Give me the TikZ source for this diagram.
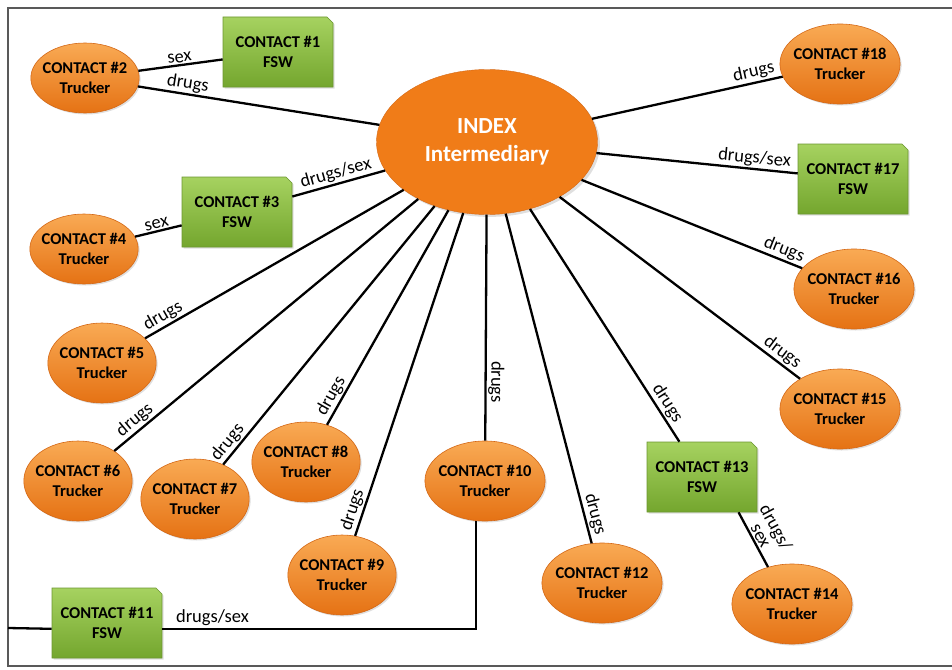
\documentclass[tikz,border=0pt]{standalone}
\usepackage{fontspec}
\setmainfont{Carlito}
\usetikzlibrary{shapes,shadows}

\begin{document}
\begin{tikzpicture}[x=1pt, y=-1pt, every node/.style={align=center, font=\bfseries\fontsize{16.5}{19.5}\selectfont}]
  \definecolor{orTop}{RGB}{249,170,84} \definecolor{orBot}{RGB}{229,114,20} \definecolor{orEdge}{RGB}{212,104,22}
  \definecolor{grTop}{RGB}{166,210,96} \definecolor{grBot}{RGB}{116,166,46} \definecolor{grEdge}{RGB}{108,150,48}
  \tikzstyle{edge}=[line width=2.3pt]
  \tikzstyle{lab}=[font=\fontsize{18.5}{17}\selectfont, inner sep=1.5pt, sloped, above]
  \tikzstyle{trucker}=[ellipse, draw=orEdge, line width=0.6pt, top color=orTop, bottom color=orBot, inner sep=-4pt,
    minimum width=108pt, minimum height=80pt, drop shadow={opacity=0.25, shadow xshift=1.5pt, shadow yshift=-1.5pt}]
  \tikzstyle{fsw}=[chamfered rectangle, chamfered rectangle corners=north east, chamfered rectangle sep=3pt,
    draw=grEdge, line width=0.6pt, top color=grTop, bottom color=grBot, minimum width=110pt, minimum height=70pt,
    drop shadow={opacity=0.25, shadow xshift=1.5pt, shadow yshift=-1.5pt}]
  \useasboundingbox (0,0) rectangle (952,669);
  \draw[gray!70!black, line width=1.3pt] (960,8) -- (8,8) -- (8,666) -- (960,666);
  \coordinate (fleft) at (8,628);

  \node[ellipse, draw=orEdge, fill={rgb,255:red,240;green,124;blue,24}, minimum width=221pt, minimum height=145pt,
    text=white, font=\bfseries\fontsize{23}{28}\selectfont, drop shadow={opacity=0.25}] (index) at (487,142) {INDEX\\Intermediary};
  \foreach \n/\x/\y in {5/102/363, 6/78/481, 7/195/499, 8/306/462, 9/342/575, 10/485/481, 12/602/583,
                        14/792/604, 15/840/409, 16/854/289, 18/840/64}
    \node[trucker] (c\n) at (\x,\y) {CONTACT \#\n\\Trucker};
  \node[trucker, minimum width=104pt, minimum height=70pt] (c2) at (85,78) {CONTACT \#2\\Trucker};
  \node[trucker, minimum width=104pt, minimum height=70pt] (c4) at (84,249) {CONTACT \#4\\Trucker};
  \foreach \n/\x/\y in {1/278/52, 3/237/212, 11/107/623, 13/702/477, 17/853/179}
    \node[fsw] (c\n) at (\x,\y) {CONTACT \#\n\\FSW};

  % left side
  \draw[edge] (c2) -- node[lab] {sex} (c1);
  \draw[edge] (c2) -- node[lab, pos=.2] {drugs} (index);
  \draw[edge] (c4) -- node[lab] {sex} (c3);
  \draw[edge] (c3) -- node[lab] {drugs/sex} (index);
  \foreach \n/\p in {5/.09, 6/.09, 7/.06, 8/.11, 9/.07}
    \draw[edge] (c\n) -- node[lab, pos=\p] {drugs} (index);
  % right side
  \foreach \n/\p in {18/.86, 16/.9, 15/.9, 13/.86, 12/.92}
    \draw[edge] (index) -- node[lab, pos=\p] {drugs} (c\n);
  \draw[edge] (index) -- node[lab, pos=.74, allow upside down] {drugs} (c10);
  \draw[edge] (index) -- node[lab, pos=.78] {drugs/sex} (c17);
  \draw[edge] (c13.-44) -- node[lab] {drugs/\\sex} (c14.123);
  % bottom
  \draw[edge] (fleft) -- (c11.186);
  \draw[edge] (c10.257) |- node[lab, pos=.92] {drugs/sex} (c11.-6);
\end{tikzpicture}
\end{document}
